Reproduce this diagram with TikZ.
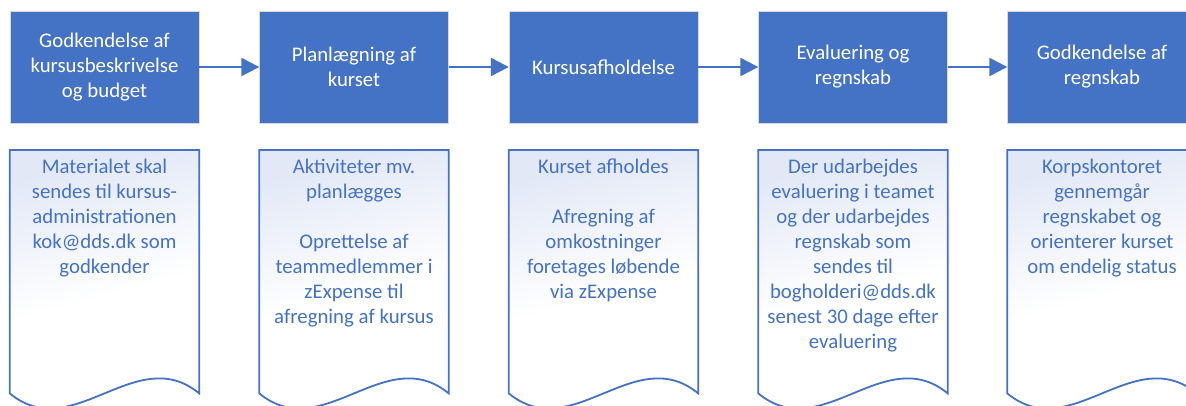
\documentclass[tikz,border=0pt]{standalone}
\usepackage{fontspec}
\setmainfont{Carlito}
\usetikzlibrary{arrows.meta,calc}
\definecolor{stepblue}{HTML}{4472C4}
\definecolor{docshade}{RGB}{226,232,246}
\def\txt{\fontsize{20.8}{25}\selectfont}

\begin{document}
\begin{tikzpicture}[x=1pt, y=-1pt,
  stepbox/.style={draw=black!15, fill=stepblue, text=white, minimum width=189pt, minimum height=112pt, align=center, font=\txt},
  docframe/.style={minimum width=189pt, minimum height=243pt, anchor=north, inner sep=0pt},
  doctext/.style={text=stepblue, align=center, anchor=north, inner sep=0pt, font=\txt},
  docline/.style={draw=stepblue, line width=1.8pt, top color=docshade, bottom color=white, middle color=white, shading angle=15},
  arr/.style={draw=stepblue, line width=2.5pt, -{Triangle[length=18pt,width=18pt]}}]
  \useasboundingbox (0,0) rectangle (1186,405);
  \clip (0,0) rectangle (1186,405);

  \node[stepbox] (s1) at (104.5,67) {Godkendelse af\\kursusbeskrivelse\\og budget};
  \node[stepbox] (s2) at (354,67) {Planlægning af\\kurset};
  \node[stepbox] (s3) at (603.5,67) {Kursusafholdelse};
  \node[stepbox] (s4) at (853,67) {Evaluering og\\regnskab};
  \node[stepbox] (s5) at (1102,67) {Godkendelse af\\regnskab};

  \draw[arr] (s1) -- (s2);
  \draw[arr] (s2) -- (s3);
  \draw[arr] (s3) -- (s4);
  \draw[arr] (s4) -- (s5);

  % document shapes under each step
  \node[docframe] (f1) at (104.5,150) {};
  \node[docframe] (f2) at (354,150) {};
  \node[docframe] (f3) at (603.5,150) {};
  \node[docframe] (f4) at (853,150) {};
  \node[docframe] (f5) at (1102,150) {};
  \foreach \i in {1,...,5}
    \filldraw[docline] (f\i.north west) -- (f\i.north east) -- (f\i.south east)
      .. controls ($(f\i.south east)+(-63,-52)$) and ($(f\i.south west)+(63,52)$) .. (f\i.south west) -- cycle;

  \node[doctext] (d1) at ($(f1.north)+(0,9)$) {Materialet skal\\sendes til kursus-\\administrationen\\kok@dds.dk som\\godkender};
  \node[doctext] (d2) at ($(f2.north)+(0,9)$) {Aktiviteter mv.\\planlægges\\[25pt]Oprettelse af\\teammedlemmer i\\zExpense til\\afregning af kursus};
  \node[doctext] (d3) at ($(f3.north)+(0,9)$) {Kurset afholdes\\[25pt]Afregning af\\omkostninger\\foretages løbende\\via zExpense};
  \node[doctext] (d4) at ($(f4.north)+(0,9)$) {Der udarbejdes\\evaluering i teamet\\og der udarbejdes\\regnskab som\\sendes til\\bogholderi@dds.dk\\senest 30 dage efter\\evaluering};
  \node[doctext] (d5) at ($(f5.north)+(0,9)$) {Korpskontoret\\gennemgår\\regnskabet og\\orienterer kurset\\om endelig status};
\end{tikzpicture}
\end{document}
